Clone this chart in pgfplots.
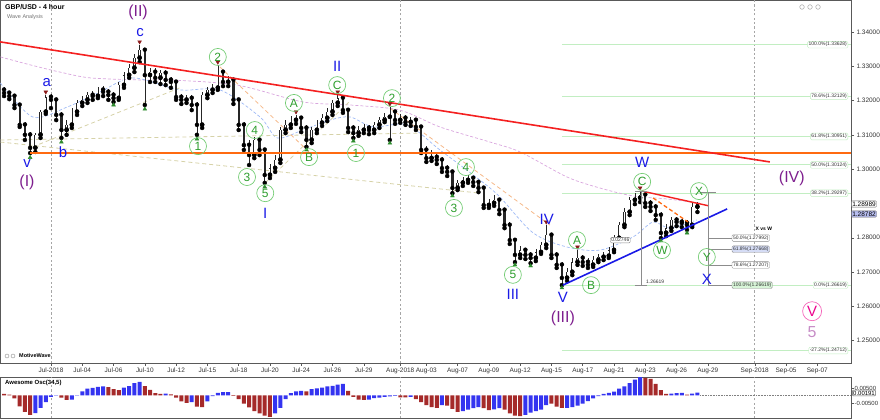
\documentclass[border=0pt]{standalone}
\usepackage{pgfplots}
\pgfplotsset{compat=1.18}
\usepackage{pgfplotstable}
\usepackage{fontspec}
\setmainfont{Liberation Sans}
\definecolor{ored}{HTML}{A52A2A}
\definecolor{oblue}{HTML}{3434F0}
\definecolor{wgreen}{HTML}{2E9E2E}
\definecolor{wgreenc}{HTML}{74CC74}
\definecolor{wblue}{HTML}{1A1AE6}
\definecolor{wpurple}{HTML}{7E1E8E}
\definecolor{fibg}{HTML}{C2EEC2}
\definecolor{trendred}{HTML}{F42020}
\definecolor{horange}{HTML}{FF6A10}
\definecolor{mapurple}{HTML}{D9A6DE}
\definecolor{mablue}{HTML}{9DB8F5}
\definecolor{khaki}{HTML}{D6D2A8}
\definecolor{lorange}{HTML}{F5B889}
\definecolor{mgray}{HTML}{8C8C8C}
\definecolor{tgreen}{HTML}{2E8B2E}
\definecolor{tred}{HTML}{8B1A1A}
\definecolor{lbluebox}{HTML}{D5DCF5}
\definecolor{lgreenbox}{HTML}{D8F5D8}
\definecolor{pricebox}{HTML}{B8BEF0}

\pgfplotstableread{
k o h l c
-9 1.3231 1.3239 1.3213 1.3222
-8 1.3222 1.3228 1.3204 1.3213
-7 1.3213 1.3219 1.3178 1.3187
-6 1.3187 1.3193 1.3123 1.3129
-5 1.3129 1.3137 1.3085 1.3100
-4 1.3100 1.3108 1.3047 1.3062
-3 1.3062 1.3105 1.3050 1.3100
-2 1.3100 1.3172 1.3091 1.3167
-1 1.3167 1.3216 1.3161 1.3210
0 1.3210 1.3219 1.3178 1.3202
1 1.3202 1.3207 1.3143 1.3158
2 1.3158 1.3167 1.3091 1.3114
3 1.3114 1.3143 1.3100 1.3129
4 1.3129 1.3178 1.3120 1.3167
5 1.3167 1.3202 1.3158 1.3193
6 1.3193 1.3213 1.3184 1.3202
7 1.3202 1.3225 1.3193 1.3216
8 1.3216 1.3228 1.3202 1.3213
9 1.3213 1.3239 1.3207 1.3231
10 1.3231 1.3242 1.3213 1.3225
11 1.3225 1.3234 1.3202 1.3216
12 1.3216 1.3225 1.3196 1.3207
13 1.3207 1.3254 1.3202 1.3245
14 1.3245 1.3283 1.3237 1.3274
15 1.3274 1.3306 1.3266 1.3295
16 1.3295 1.3336 1.3283 1.3324
17 1.3324 1.3362 1.3312 1.3347
18 1.3347 1.3353 1.3187 1.3274
19 1.3274 1.3295 1.3254 1.3283
20 1.3283 1.3295 1.3254 1.3266
21 1.3266 1.3289 1.3248 1.3280
22 1.3280 1.3289 1.3245 1.3260
23 1.3260 1.3269 1.3237 1.3254
24 1.3254 1.3260 1.3202 1.3210
25 1.3210 1.3219 1.3190 1.3202
26 1.3202 1.3216 1.3193 1.3207
27 1.3207 1.3216 1.3172 1.3187
28 1.3187 1.3196 1.3100 1.3129
29 1.3129 1.3225 1.3120 1.3216
30 1.3216 1.3239 1.3207 1.3231
31 1.3231 1.3248 1.3222 1.3237
32 1.3237 1.3304 1.3231 1.3283
33 1.3283 1.3289 1.3242 1.3254
34 1.3254 1.3272 1.3242 1.3260
35 1.3260 1.3266 1.3190 1.3202
36 1.3202 1.3207 1.3114 1.3129
37 1.3129 1.3137 1.3056 1.3070
38 1.3070 1.3085 1.3012 1.3041
39 1.3041 1.3094 1.3032 1.3085
40 1.3085 1.3091 1.3041 1.3056
41 1.3056 1.3062 1.2960 1.2983
42 1.2983 1.3015 1.2974 1.3003
43 1.3003 1.3041 1.2992 1.3027
44 1.3027 1.3123 1.3018 1.3114
45 1.3114 1.3143 1.3105 1.3129
46 1.3129 1.3155 1.3120 1.3143
47 1.3143 1.3158 1.3132 1.3149
48 1.3149 1.3155 1.3108 1.3120
49 1.3120 1.3129 1.3065 1.3085
50 1.3085 1.3123 1.3076 1.3114
51 1.3114 1.3143 1.3105 1.3135
52 1.3135 1.3161 1.3126 1.3149
53 1.3149 1.3178 1.3140 1.3167
54 1.3167 1.3202 1.3158 1.3193
55 1.3193 1.3216 1.3184 1.3207
56 1.3207 1.3213 1.3164 1.3172
57 1.3172 1.3178 1.3108 1.3120
58 1.3120 1.3129 1.3091 1.3105
59 1.3105 1.3126 1.3097 1.3114
60 1.3114 1.3132 1.3105 1.3120
61 1.3120 1.3129 1.3102 1.3114
62 1.3114 1.3137 1.3105 1.3129
63 1.3129 1.3152 1.3120 1.3143
64 1.3143 1.3164 1.3137 1.3152
65 1.3152 1.3181 1.3085 1.3167
66 1.3167 1.3172 1.3132 1.3143
67 1.3143 1.3161 1.3135 1.3149
68 1.3149 1.3158 1.3129 1.3137
69 1.3137 1.3152 1.3126 1.3143
70 1.3143 1.3149 1.3114 1.3123
71 1.3123 1.3129 1.3047 1.3056
72 1.3056 1.3067 1.3021 1.3032
73 1.3032 1.3056 1.3024 1.3035
74 1.3035 1.3047 1.3015 1.3027
75 1.3027 1.3035 1.2992 1.3003
76 1.3003 1.3012 1.2980 1.2992
77 1.2992 1.2997 1.2930 1.2945
78 1.2945 1.2968 1.2939 1.2960
79 1.2960 1.2977 1.2951 1.2968
80 1.2968 1.2983 1.2960 1.2974
81 1.2974 1.2980 1.2951 1.2962
82 1.2962 1.2968 1.2933 1.2945
83 1.2945 1.2951 1.2887 1.2895
84 1.2895 1.2913 1.2887 1.2901
85 1.2901 1.2925 1.2893 1.2910
86 1.2910 1.2916 1.2869 1.2881
87 1.2881 1.2887 1.2828 1.2837
88 1.2837 1.2846 1.2782 1.2793
89 1.2793 1.2799 1.2729 1.2750
90 1.2750 1.2776 1.2741 1.2764
91 1.2764 1.2770 1.2738 1.2750
92 1.2750 1.2758 1.2726 1.2741
93 1.2741 1.2767 1.2732 1.2758
94 1.2758 1.2788 1.2753 1.2779
95 1.2779 1.2837 1.2770 1.2808
96 1.2808 1.2814 1.2741 1.2750
97 1.2750 1.2758 1.2712 1.2721
98 1.2721 1.2729 1.2662 1.2683
99 1.2683 1.2712 1.2674 1.2700
100 1.2700 1.2741 1.2691 1.2729
101 1.2729 1.2764 1.2721 1.2741
102 1.2741 1.2750 1.2718 1.2729
103 1.2729 1.2741 1.2712 1.2721
104 1.2721 1.2747 1.2715 1.2735
105 1.2735 1.2753 1.2729 1.2744
106 1.2744 1.2758 1.2735 1.2747
107 1.2747 1.2773 1.2741 1.2764
108 1.2764 1.2808 1.2758 1.2799
109 1.2799 1.2846 1.2793 1.2837
110 1.2837 1.2887 1.2831 1.2875
111 1.2875 1.2919 1.2866 1.2910
112 1.2910 1.2930 1.2898 1.2916
113 1.2916 1.2936 1.2904 1.2925
114 1.2925 1.2933 1.2890 1.2901
115 1.2901 1.2910 1.2878 1.2890
116 1.2890 1.2898 1.2852 1.2866
117 1.2866 1.2875 1.2799 1.2814
118 1.2814 1.2840 1.2805 1.2828
119 1.2828 1.2860 1.2820 1.2852
120 1.2852 1.2860 1.2834 1.2846
121 1.2846 1.2858 1.2831 1.2843
122 1.2843 1.2852 1.2823 1.2837
123 1.2837 1.2901 1.2831 1.2890
124 1.2890 1.2904 1.2875 1.2898
}\candles

\tikzset{
  wl/.style={font=\fontsize{12}{12}\selectfont, text=wgreen, circle, draw=wgreenc, line width=0.7bp, minimum size=17bp, inner sep=0pt},
  bl/.style={font=\fontsize{15}{15}\selectfont, text=wblue},
  pl/.style={font=\fontsize{16}{16}\selectfont, text=wpurple},
  fibl/.style={font=\fontsize{5}{5.5}\selectfont, text=black!80, draw=fibg, fill=white, rounded corners=1.2bp, inner sep=1bp, anchor=east},
  msl/.style={font=\fontsize{5}{5.5}\selectfont, text=black!80, draw=black!45, rounded corners=1.2bp, inner sep=1bp, anchor=west},
}

\begin{document}
\begin{tikzpicture}
\path[use as bounding box] (0bp,0bp) rectangle (880bp,420bp);
% ---------------- main price panel ----------------
\begin{axis}[
  at={(0bp,57bp)}, anchor=south west, scale only axis,
  width=851bp, height=363bp,
  xmin=-9.78, xmax=153.46, ymin=1.2435, ymax=1.3493,
  clip mode=individual,
  axis line style={draw=black!65, line width=0.6bp},
  ytick pos=right, xtick pos=bottom, tick align=outside,
  major tick length=3bp, minor tick length=1.5bp,
  tick style={black!65, line width=0.5bp},
  scaled y ticks=false,
  ytick={1.25,1.26,1.27,1.28,1.30,1.31,1.32,1.33,1.34},
  minor y tick num=4,
  yticklabel style={font=\fontsize{6.5}{7}\selectfont, text=black!80, xshift=-1bp,
    /pgf/number format/.cd, fixed, fixed zerofill, precision=5, assume math mode=true},
  xtick={0,6,12,18,24,30,36,42,48,54,60,67,72,78,84,90,96,102,108,114,120,126,135,141,147},
  xticklabels={Jul-2018,Jul-04,Jul-06,Jul-10,Jul-12,Jul-15,Jul-18,Jul-20,Jul-24,Jul-26,Jul-29,Aug-2018,Aug-03,Aug-07,Aug-09,Aug-12,Aug-15,Aug-17,Aug-21,Aug-23,Aug-26,Aug-29,Sep-2018,Sep-05,Sep-07},
  xticklabel style={font=\fontsize{6.5}{7}\selectfont, text=black!80, yshift=1.5bp},
]
% month separators
\addplot[black!35, line width=0.8bp, dash pattern=on 2.2bp off 2.2bp] coordinates {(0,1.2435) (0,1.3493)};
\addplot[black!35, line width=0.8bp, dash pattern=on 2.2bp off 2.2bp] coordinates {(67,1.2435) (67,1.3493)};
\addplot[black!35, line width=0.8bp, dash pattern=on 2.2bp off 2.2bp] coordinates {(135,1.2435) (135,1.3493)};
% fibonacci levels
\addplot[fibg, line width=0.8bp] coordinates {(98,1.33628) (153.46,1.33628)};
\addplot[fibg, line width=0.8bp] coordinates {(98,1.32129) (153.46,1.32129)};
\addplot[fibg, line width=0.8bp] coordinates {(98,1.30951) (153.46,1.30951)};
\addplot[fibg, line width=0.8bp] coordinates {(98,1.30124) (153.46,1.30124)};
\addplot[fibg, line width=0.8bp] coordinates {(98,1.29297) (153.46,1.29297)};
\addplot[fibg, line width=0.8bp] coordinates {(98,1.26619) (153.46,1.26619)};
\addplot[fibg, line width=0.8bp] coordinates {(98,1.24712) (153.46,1.24712)};
% moving averages
\addplot[mapurple, line width=0.7bp, dash pattern=on 3bp off 2bp, smooth] coordinates {(-9.7,1.3327) (-4.0,1.3304) (1.7,1.3283) (7.5,1.3266) (17.1,1.3260) (22.8,1.3260) (35.7,1.3245) (48.3,1.3196) (57.4,1.3187) (66.9,1.3172) (74.6,1.3123) (84.2,1.3079) (90.0,1.3050) (99.0,1.2977) (105.3,1.2945) (111.6,1.2922) (118.2,1.2913) (124.5,1.2901)};
\addplot[mablue, line width=0.7bp, dash pattern=on 3bp off 2bp, smooth] coordinates {(-9.7,1.3251) (-3.5,1.3152) (3.1,1.3181) (9.4,1.3225) (15.7,1.3266) (24.7,1.3231) (32.4,1.3231) (40.1,1.3152) (43.4,1.3091) (48.3,1.3114) (53.5,1.3143) (57.4,1.3152) (61.8,1.3123) (68.3,1.3129) (74.6,1.3056) (82.3,1.2968) (86.1,1.2919) (92.5,1.2814) (99.0,1.2773) (105.3,1.2764) (111.6,1.2802) (115.5,1.2846) (118.7,1.2828) (123.9,1.2852)};
% faint dashed trend lines
\addplot[khaki, line width=0.8bp, dash pattern=on 4bp off 3bp] coordinates {(-3.5,1.3065) (24.7,1.3237)};
\addplot[khaki, line width=0.8bp, dash pattern=on 4bp off 3bp] coordinates {(-9.7,1.3085) (70.8,1.3105)};
\addplot[khaki, line width=0.8bp, dash pattern=on 4bp off 3bp] coordinates {(-9.7,1.3079) (82.3,1.2930)};
\addplot[khaki, line width=0.8bp, dash pattern=on 4bp off 3bp] coordinates {(41.1,1.2960) (57.4,1.3199)};
\addplot[lorange, line width=0.8bp, dash pattern=on 4bp off 3bp] coordinates {(32.4,1.3298) (49.7,1.3047)};
\addplot[lorange, line width=0.8bp, dash pattern=on 4bp off 3bp] coordinates {(65.0,1.3178) (95.7,1.2837)};
% candles: wicks, bodies, hollow up-bodies
\addplot[only marks, mark=none, error bars/.cd, y dir=plus, y explicit, error mark=none,
  error bar style={draw=black!85, line width=0.55bp}]
  table[x=k, y=l, y error expr=\thisrow{h}-\thisrow{l}] {\candles};
\addplot[only marks, mark=none, error bars/.cd, y dir=plus, y explicit, error mark=none,
  error bar style={draw=black!85, line width=2.3bp}]
  table[x=k, y expr={min(\thisrow{o},\thisrow{c})}, y error expr={max(abs(\thisrow{c}-\thisrow{o}),0.0001)}] {\candles};
\addplot[only marks, mark=none, error bars/.cd, y dir=plus, y explicit, error mark=none,
  error bar style={draw=white, line width=1.0bp}]
  table[x=k, y expr={\thisrow{o}+0.00012}, y error expr={max(\thisrow{c}-\thisrow{o}-0.00024,0)}] {\candles};
% main trend lines
\addplot[horange, line width=1.6bp] coordinates {(-4,1.3047) (153.46,1.3047)};
\addplot[trendred, line width=1.6bp] coordinates {(-9.78,1.3371) (137.9,1.3021)};
\addplot[wblue, line width=1.6bp] coordinates {(98.2,1.2662) (129.7,1.2884)};
\addplot[trendred, line width=1.4bp] coordinates {(113.4,1.2936) (126.2,1.2893)};
\addplot[horange, line width=1.3bp, dash pattern=on 4bp off 2.5bp] coordinates {(115.5,1.2916) (122.2,1.2846)};
% measuring tools
\addplot[mgray, line width=0.7bp] coordinates {(113.2,1.2936) (113.2,1.2662)};
\addplot[mgray, line width=0.7bp] coordinates {(112.0,1.2936) (114.4,1.2936)};
\addplot[mgray, line width=0.7bp] coordinates {(112.0,1.2662) (114.4,1.2662)};
\addplot[mgray, line width=0.7bp] coordinates {(126,1.2933) (126,1.2662)};
\addplot[mgray, line width=0.7bp] coordinates {(124.5,1.2933) (127.5,1.2933)};
\addplot[mgray, line width=0.7bp] coordinates {(126,1.27992) (130.6,1.27992)};
\addplot[mgray, line width=0.7bp] coordinates {(126,1.27668) (130.6,1.27668)};
\addplot[mgray, line width=0.7bp] coordinates {(126,1.27207) (130.6,1.27207)};
\addplot[mgray, line width=0.7bp] coordinates {(126,1.26619) (130.6,1.26619)};
% swing markers
\addplot[only marks, mark=triangle*, mark size=2.2bp, color=tgreen] coordinates {(-4,1.3034) (2,1.3079) (12,1.3187) (18,1.3175) (28,1.3088) (41,1.2948) (49,1.3056) (58,1.3082) (65,1.3076) (77,1.2922) (89,1.2721) (92,1.2718) (98,1.2654) (117,1.2791) (122,1.2814)};
\addplot[only marks, mark=triangle*, mark size=2.2bp, color=tred, mark options={rotate=180}] coordinates {(-1,1.3225) (17,1.3371) (32,1.3312) (47,1.3167) (55,1.3225) (65,1.3190) (95,1.2846) (101,1.2773) (113,1.2945)};
% fibonacci labels
\node[fibl] at (axis cs:152.9,1.33628) {100.0\%(1.33628)};
\node[fibl] at (axis cs:152.9,1.32129) {78.6\%(1.32129)};
\node[fibl] at (axis cs:152.9,1.30951) {61.8\%(1.30951)};
\node[fibl] at (axis cs:152.9,1.30124) {50.0\%(1.30124)};
\node[fibl] at (axis cs:152.9,1.29297) {38.2\%(1.29297)};
\node[fibl] at (axis cs:152.9,1.26619) {0.0\%(1.26619)};
\node[fibl] at (axis cs:152.9,1.24712) {-27.2\%(1.24712)};
% measuring labels
\node[msl, fill=white] at (axis cs:130.6,1.27992) {50.0\%(1.27992)};
\node[msl, fill=lbluebox] at (axis cs:130.6,1.27668) {61.8\%(1.27668)};
\node[msl, fill=white] at (axis cs:130.6,1.27207) {78.6\%(1.27207)};
\node[msl, fill=lgreenbox] at (axis cs:130.6,1.26619) {100.0\%(1.26619)};
\node[font=\bfseries\fontsize{5}{5.5}\selectfont, anchor=west] at (axis cs:134.5,1.2826) {X vs W};
\node[msl, anchor=center, fill=white] at (axis cs:109.2,1.2793) {0.02746};
\node[font=\fontsize{5}{5.5}\selectfont, anchor=west, text=black!80] at (axis cs:113.5,1.2672) {1.26619};
% wave labels
\node[pl] at (axis cs:16.7,1.3458) {(II)};
\node[bl] at (axis cs:17.1,1.3397) {c};
\node[bl] at (axis cs:-0.8,1.3251) {a};
\node[bl] at (axis cs:2.3,1.3050) {b};
\node[bl] at (axis cs:-4.6,1.3015) {v};
\node[pl] at (axis cs:-4.6,1.2960) {(I)};
\node[wl] at (axis cs:32,1.3327) {2};
\node[wl] at (axis cs:28.2,1.3067) {1};
\node[wl] at (axis cs:39.1,1.3114) {4};
\node[wl] at (axis cs:37.6,1.2977) {3};
\node[wl] at (axis cs:41.1,1.2930) {5};
\node[bl] at (axis cs:41.1,1.2872) {I};
\node[wl] at (axis cs:46.6,1.3193) {A};
\node[wl] at (axis cs:49.5,1.3035) {B};
\node[wl] at (axis cs:54.9,1.3245) {C};
\node[bl] at (axis cs:54.9,1.3301) {II};
\node[wl] at (axis cs:65.4,1.3207) {2};
\node[wl] at (axis cs:58.5,1.3047) {1};
\node[wl] at (axis cs:79.6,1.3006) {4};
\node[wl] at (axis cs:77.3,1.2887) {3};
\node[wl] at (axis cs:88.6,1.2692) {5};
\node[bl] at (axis cs:88.6,1.2636) {III};
\node[bl] at (axis cs:95.1,1.2855) {IV};
\node[bl] at (axis cs:98.2,1.2627) {V};
\node[pl] at (axis cs:98.2,1.2566) {(III)};
\node[wl] at (axis cs:100.9,1.2793) {A};
\node[wl] at (axis cs:103.6,1.2662) {B};
\node[wl] at (axis cs:113.4,1.2963) {C};
\node[bl] at (axis cs:113.4,1.3021) {W};
\node[wl] at (axis cs:117.2,1.2764) {W};
\node[wl] at (axis cs:124.3,1.2936) {X};
\node[wl] at (axis cs:125.8,1.2744) {Y};
\node[bl] at (axis cs:125.8,1.2680) {X};
\node[pl] at (axis cs:142.1,1.2974) {(IV)};
\node[font=\fontsize{15}{15}\selectfont, text=magenta, circle, draw=magenta!60, line width=0.7bp, minimum size=19bp, inner sep=0pt] at (axis cs:146,1.2586) {V};
\node[font=\fontsize{16}{16}\selectfont, text=violet!45] at (axis cs:146,1.2525) {5};
\end{axis}
% ---------------- oscillator panel ----------------
\begin{axis}[
  at={(0bp,2bp)}, anchor=south west, scale only axis,
  width=851bp, height=41bp,
  xmin=-9.78, xmax=153.46, ymin=-0.015, ymax=0.0123,
  clip mode=individual,
  axis line style={draw=black!65, line width=0.6bp},
  ytick pos=right, tick align=outside, xtick=\empty,
  major tick length=2.5bp, tick style={black!65, line width=0.5bp},
  scaled y ticks=false,
  ytick={-0.005,0.005}, yticklabels={-0.00500,0.00500},
  yticklabel style={font=\fontsize{6}{7}\selectfont, text=black!80, xshift=-2.5bp},
]
\addplot[black!35, line width=0.8bp, dash pattern=on 2.2bp off 2.2bp] coordinates {(0,-0.015) (0,0.0123)};
\addplot[black!35, line width=0.8bp, dash pattern=on 2.2bp off 2.2bp] coordinates {(67,-0.015) (67,0.0123)};
\addplot[black!35, line width=0.8bp, dash pattern=on 2.2bp off 2.2bp] coordinates {(135,-0.015) (135,0.0123)};
\addplot[black!50, line width=0.6bp, densely dotted] coordinates {(124.5,0) (153.46,0)};
\addplot[ybar, bar width=4bp, bar shift=0pt, fill=ored, draw=none] coordinates {(-9,0.001) (-8,0.0005) (-7,-0.002) (-6,-0.0072) (-5,-0.011) (-4,-0.013) (2,-0.0015) (3,-0.003) (11,0.0055) (12,0.0043) (13,0.0035) (18,0.0062) (19,0.0037) (20,0.0015) (21,0.001) (23,0.0008) (24,-0.0015) (25,-0.004) (26,-0.005) (28,-0.0075) (29,-0.0077) (35,-0.0002) (36,-0.0025) (37,-0.0055) (38,-0.008) (39,-0.0105) (40,-0.012) (41,-0.0135) (42,-0.0143) (49,0.0028) (57,0.003) (58,-0.001) (59,-0.0028) (60,-0.003) (67,-0.0012) (68,-0.0013) (70,-0.0025) (71,-0.0045) (72,-0.0065) (73,-0.0078) (74,-0.0083) (76,-0.0068) (77,-0.009) (78,-0.011) (83,-0.0085) (84,-0.0097) (87,-0.0095) (88,-0.012) (89,-0.0135) (90,-0.0137) (96,-0.0055) (97,-0.0075) (98,-0.0083) (114,0.0118) (115,0.011) (116,0.0078) (117,0.0035) (118,0.001) (122,0.0005)};
\addplot[ybar, bar width=4bp, bar shift=0pt, fill=oblue, draw=none] coordinates {(-3,-0.0118) (-2,-0.0083) (-1,-0.0045) (0,-0.001) (1,0.0003) (4,-0.0027) (5,0.0003) (6,0.0028) (7,0.0045) (8,0.005) (9,0.0057) (10,0.006) (14,0.0052) (15,0.0062) (16,0.0082) (17,0.009) (22,0.0012) (27,-0.0045) (30,-0.004) (31,-0.0005) (32,0.0017) (33,0.0022) (34,0.0023) (43,-0.012) (44,-0.0083) (45,-0.0025) (46,0.0015) (47,0.0028) (48,0.003) (50,0.0042) (51,0.0048) (52,0.0053) (53,0.006) (54,0.0064) (55,0.0072) (56,0.0077) (61,-0.0027) (62,-0.0018) (63,-0.0015) (64,-0.001) (65,-0.0006) (66,-0.0003) (69,-0.001) (75,-0.0065) (79,-0.0105) (80,-0.0095) (81,-0.0085) (82,-0.0077) (85,-0.0093) (86,-0.0085) (91,-0.013) (92,-0.0115) (93,-0.0105) (94,-0.0095) (95,-0.0065) (99,-0.0082) (100,-0.0078) (101,-0.0068) (102,-0.0055) (103,-0.0037) (104,-0.002) (105,-0.0005) (106,0.001) (107,0.0017) (108,0.0025) (109,0.0045) (110,0.006) (111,0.0082) (112,0.0105) (113,0.0123) (119,0.0012) (120,0.0015) (121,0.0017) (123,0.0012) (124,0.0019)};
\end{axis}
% ---------------- overlay texts ----------------
\node[anchor=north west, font=\bfseries\fontsize{7}{8}\selectfont, inner sep=0pt] at (5bp,416bp) {GBP/USD - 4 hour};
\node[anchor=north west, font=\fontsize{5.5}{6}\selectfont, text=black!55, inner sep=0pt] at (7bp,406bp) {Wave Analysis};
\node[anchor=west, font=\bfseries\fontsize{5.5}{6}\selectfont, inner sep=0pt] at (19bp,64bp) {MotiveWave};
\draw[black!45, line width=0.4bp] (7bp,64bp) circle (2bp) (13bp,64bp) circle (2bp);
\node[anchor=north west, font=\bfseries\fontsize{6}{7}\selectfont, inner sep=0pt] at (5bp,40bp) {Awesome Osc(34,5)};
\draw[black!35, line width=0.5bp] (802bp,413bp) circle (2.3bp) (810bp,413bp) circle (2.3bp) (818bp,413bp) circle (2.3bp);
\node[font=\fontsize{6.5}{7}\selectfont, draw=black!60, fill=white, rounded corners=1bp, inner sep=0.8bp] at (864bp,216bp) {1.28989};
\node[font=\fontsize{6.5}{7}\selectfont, draw=black!60, fill=pricebox, rounded corners=1bp, inner sep=0.8bp] at (864bp,206bp) {1.28782};
\node[font=\fontsize{6}{7}\selectfont, draw=black!60, fill=white, rounded corners=1bp, inner sep=0.8bp] at (864bp,27bp) {0.00191};
\end{tikzpicture}
\end{document}
